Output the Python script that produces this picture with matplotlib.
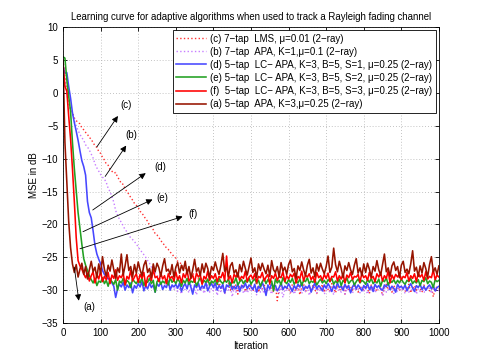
import numpy as np
import matplotlib
matplotlib.use('Agg')
import matplotlib.pyplot as plt

# MSE (dB) sampled every 5 iterations, 0..1000
step = 5

mse_c = [  # 7-tap LMS
    5.0, 2.5, 0.5, -1.5, -2.5, -3.0, -3.8, -4.2, -4.5, -4.7, -5.3, -5.6, -6.0, -6.3, -6.8, -7.0, -7.6, -8.0, -8.3, -8.9,
    -9.2, -9.8, -10.2, -10.8, -11.0, -11.6, -11.9, -12.2, -12.1, -12.8, -13.2, -13.8, -13.9, -14.6, -15.0, -15.4, -15.9, -16.3, -16.8, -17.1,
    -17.4, -18.0, -18.3, -18.7, -19.2, -19.5, -20.1, -20.4, -20.8, -21.4, -21.6, -22.0, -22.4, -22.9, -23.1, -23.6, -23.8, -24.2, -24.5, -24.9,
    -25.1, -25.6, -25.8, -26.0, -26.5, -26.6, -27.0, -27.1, -27.5, -27.4, -27.9, -28.0, -28.3, -28.1, -28.6, -28.4, -28.9, -28.7, -29.2, -28.8,
    -29.3, -29.0, -29.7, -28.6, -29.9, -29.2, -30.4, -29.5, -28.9, -30.0, -29.4, -29.8, -29.1, -30.6, -29.3, -29.7, -28.8, -30.2, -29.5, -29.9,
    -29.2, -30.1, -29.6, -28.7, -30.3, -29.4, -29.8, -29.0, -30.5, -29.5, -29.1, -29.9, -30.2, -29.3, -31.6, -29.7, -29.0, -30.0, -29.4, -29.8,
    -29.6, -30.4, -29.1, -29.8, -30.1, -29.3, -30.7, -29.5, -29.0, -30.2, -29.7, -29.4, -30.0, -29.2, -29.9, -30.5, -29.3, -29.8, -29.1, -30.3,
    -29.5, -29.9, -30.2, -29.0, -29.7, -30.4, -29.3, -29.8, -30.1, -29.4, -30.6, -29.2, -29.9, -29.5, -30.0, -29.1, -29.8, -30.3, -29.4, -29.7,
    -30.0, -29.3, -29.8, -30.5, -29.2, -29.9, -29.6, -30.2, -29.4, -29.7, -30.8, -29.5, -29.1, -30.0, -29.6, -30.3, -29.3, -29.8, -29.5, -30.1,
    -29.4, -29.9, -30.2, -29.6, -29.1, -30.4, -29.7, -29.3, -30.0, -29.5, -29.8, -30.3, -29.2, -29.9, -29.6, -30.1, -29.4, -31.0, -29.7, -29.5,
    -29.8,
]

mse_b = [  # 7-tap APA K=1
    5.0, 2.0, 0.0, -1.5, -2.5, -3.2, -4.2, -5.0, -5.7, -6.3, -6.8, -7.2, -7.9, -8.2, -8.7, -9.3, -9.9, -10.8, -11.4, -11.9,
    -12.4, -12.8, -13.1, -13.6, -14.5, -15.0, -15.8, -16.6, -17.9, -18.6, -19.2, -19.7, -20.2, -20.8, -21.1, -21.7, -22.0, -22.3, -22.6, -23.0,
    -23.4, -23.9, -24.2, -24.6, -25.0, -25.5, -25.9, -26.5, -27.0, -27.3, -27.7, -28.1, -28.4, -28.7, -29.0, -29.3, -29.1, -29.6, -29.4, -29.9,
    -29.5, -30.2, -29.8, -30.6, -29.3, -30.0, -29.7, -30.4, -29.1, -30.1, -29.9, -30.7, -29.4, -30.2, -29.6, -30.5, -29.8, -29.2, -30.3, -29.7,
    -30.1, -29.5, -30.8, -29.9, -30.2, -29.4, -30.6, -29.8, -30.0, -29.3, -31.0, -29.7, -30.3, -29.6, -30.1, -29.2, -30.5, -29.9, -30.4, -29.8,
    -30.2, -29.6, -30.0, -30.7, -29.4, -30.3, -29.8, -30.5, -29.5, -30.1, -29.9, -30.6, -29.3, -30.2, -29.7, -30.4, -29.6, -31.1, -29.9, -30.0,
    -29.7, -30.3, -29.5, -30.6, -29.9, -30.1, -29.4, -30.5, -29.8, -30.2, -29.6, -30.8, -29.9, -30.0, -29.3, -30.4, -29.7, -30.2, -29.5, -30.6,
    -30.0, -29.6, -30.4, -29.8, -30.7, -29.5, -30.1, -29.9, -30.3, -29.4, -30.6, -29.7, -30.2, -29.9, -30.5, -29.6, -30.0, -29.8, -30.4, -29.5,
    -30.1, -29.7, -30.6, -29.9, -30.2, -29.5, -30.4, -29.8, -30.0, -29.6, -30.9, -29.7, -30.3, -29.9, -30.1, -29.4, -30.5, -29.8, -30.2, -29.6,
    -30.0, -29.8, -30.5, -29.7, -30.3, -29.9, -30.1, -29.5, -30.6, -29.8, -30.2, -29.6, -30.4, -29.9, -30.0, -29.7, -30.5, -29.8, -30.2, -29.9,
    -30.1,
]

mse_d = [  # LC-APA S=1
    4.0, 3.0, 3.1, 1.0, -0.8, -3.0, -4.5, -5.8, -7.2, -8.8, -10.3, -11.2, -12.5, -16.5, -18.2, -19.0, -21.0, -23.2, -24.5, -25.3,
    -26.0, -27.0, -27.6, -27.9, -28.3, -28.2, -28.9, -29.4, -31.1, -29.8, -29.1, -29.5, -28.8, -30.0, -29.2, -29.6, -28.9, -30.4, -29.3, -29.7,
    -29.0, -29.5, -28.7, -30.1, -29.3, -29.8, -28.9, -29.6, -29.2, -30.3, -29.0, -29.4, -28.8, -29.9, -29.3, -29.6, -28.6, -30.0, -29.2, -29.5,
    -29.1, -29.7, -28.9, -30.2, -29.4, -29.0, -29.8, -28.7, -29.5, -30.6, -29.2, -29.6, -28.9, -29.9, -29.3, -29.7, -28.8, -30.1, -29.4, -29.0,
    -29.6, -28.9, -30.0, -29.3, -29.7, -29.1, -30.4, -29.2, -29.5, -28.8, -29.9, -29.4, -29.8, -29.0, -30.2, -29.3, -29.6, -28.9, -29.8, -29.2,
    -29.5, -29.9, -29.1, -30.3, -29.4, -29.7, -28.8, -29.6, -30.8, -29.2, -29.8, -29.0, -29.5, -29.3, -30.1, -29.6, -28.9, -29.9, -29.4, -29.7,
    -29.0, -29.6, -30.2, -29.3, -29.8, -29.1, -29.5, -28.9, -30.0, -29.4, -29.7, -29.2, -30.3, -29.5, -28.9, -29.8, -29.3, -29.6, -30.1, -29.2,
    -29.7, -29.0, -29.5, -30.2, -29.3, -29.8, -28.9, -29.6, -29.4, -30.0, -29.1, -29.7, -29.3, -30.4, -29.5, -29.0, -29.8, -29.2, -29.6, -30.1,
    -29.3, -29.7, -29.0, -29.9, -29.4, -30.2, -29.1, -29.6, -29.3, -29.8, -30.0, -29.2, -29.5, -28.9, -29.9, -29.4, -29.7, -30.3, -29.1, -29.6,
    -29.4, -29.8, -29.2, -30.1, -29.5, -29.0, -29.7, -30.2, -29.3, -29.6, -29.1, -29.9, -29.4, -30.0, -29.5, -29.2, -29.8, -29.3, -30.1, -29.6,
    -29.4,
]

mse_e = [  # LC-APA S=2
    5.5, 5.3, 2.0, -0.5, -2.8, -7.5, -11.5, -14.8, -18.2, -20.6, -23.0, -25.2, -26.2, -27.0, -27.8, -28.4, -28.9, -28.2, -29.3, -28.6,
    -28.8, -28.1, -29.0, -28.5, -29.4, -28.3, -28.7, -29.1, -28.4, -30.0, -28.6, -28.9, -28.2, -29.2, -28.5, -28.8, -29.6, -28.3, -28.7, -29.0,
    -28.4, -28.9, -28.1, -29.3, -28.6, -28.8, -28.2, -29.0, -28.5, -30.3, -28.7, -28.3, -29.1, -28.6, -28.9, -28.4, -29.2, -28.1, -28.8, -28.5,
    -29.0, -28.3, -28.7, -29.4, -28.5, -28.9, -28.2, -29.1, -28.6, -28.8, -28.4, -29.3, -28.7, -28.1, -29.0, -28.5, -28.8, -28.3, -29.2, -28.6,
    -28.9, -28.4, -29.1, -28.2, -28.7, -29.0, -28.5, -28.8, -28.3, -29.3, -28.6, -28.9, -28.1, -29.2, -28.7, -28.4, -29.0, -28.5, -28.8, -28.2,
    -29.1, -28.6, -28.3, -28.9, -28.5, -29.4, -28.7, -28.2, -29.0, -28.4, -28.8, -28.6, -30.1, -28.3, -28.9, -28.5, -29.2, -28.1, -28.7, -29.0,
    -28.4, -28.8, -28.2, -29.1, -28.6, -28.9, -28.3, -29.3, -28.5, -28.7, -28.1, -29.0, -28.6, -28.8, -28.4, -29.2, -28.7, -28.3, -28.9, -28.5,
    -29.0, -28.4, -28.7, -28.2, -29.1, -28.6, -28.9, -28.3, -29.3, -28.5, -28.8, -28.1, -29.0, -28.6, -28.4, -29.2, -28.7, -28.3, -28.9, -28.5,
    -28.7, -29.1, -28.4, -28.8, -28.2, -29.0, -28.6, -28.9, -28.3, -29.4, -28.5, -28.7, -28.1, -29.2, -28.6, -28.8, -28.4, -29.0, -28.5, -28.9,
    -28.3, -28.8, -29.1, -28.5, -28.7, -28.2, -29.0, -28.6, -28.9, -28.4, -29.3, -28.5, -28.7, -28.1, -29.0, -28.6, -28.8, -29.6, -28.4, -28.7,
    -28.5,
]

mse_f = [  # LC-APA S=3
    4.5, 1.0, 0.3, -3.5, -7.0, -11.5, -16.5, -22.0, -25.5, -26.3, -26.8, -27.5, -28.1, -27.4, -28.6, -27.8, -27.2, -28.9, -27.6, -28.3,
    -27.1, -28.7, -27.9, -28.4, -27.3, -29.0, -27.7, -28.2, -26.9, -28.5, -27.8, -28.1, -27.4, -29.2, -27.9, -28.3, -27.0, -28.6, -28.0, -27.5,
    -28.8, -27.6, -28.2, -27.3, -29.4, -28.0, -27.7, -28.5, -26.8, -28.1, -27.9, -28.7, -27.4, -28.3, -27.8, -29.0, -27.5, -28.2, -27.9, -28.6,
    -27.2, -28.4, -27.8, -28.9, -27.5, -28.1, -27.0, -28.6, -28.2, -27.7, -28.8, -27.4, -28.0, -27.6, -29.1, -27.9, -28.3, -27.1, -28.5, -27.8,
    -28.2, -27.5, -28.7, -27.9, -28.1, -27.3, -28.6, -24.8, -28.4, -27.8, -28.9, -27.6, -28.0, -27.4, -28.5, -27.9, -28.2, -27.1, -28.7, -28.0,
    -27.7, -28.3, -27.5, -28.8, -27.9, -28.1, -27.3, -28.6, -28.0, -27.6, -29.0, -27.8, -28.2, -27.4, -28.5, -27.9, -28.1, -27.2, -28.7, -27.8,
    -28.3, -27.6, -28.0, -27.4, -28.9, -27.9, -28.2, -27.1, -28.6, -27.7, -28.0, -27.5, -28.4, -27.9, -28.8, -27.3, -28.1, -27.8, -28.5, -27.6,
    -28.2, -27.4, -28.7, -27.9, -28.0, -27.2, -28.6, -27.8, -28.3, -27.5, -28.9, -27.7, -28.1, -27.3, -28.4, -27.9, -28.0, -27.6, -28.8, -27.4,
    -28.1, -27.8, -28.5, -27.3, -28.2, -27.9, -28.7, -27.5, -28.0, -27.4, -28.6, -27.8, -28.2, -27.1, -28.9, -27.7, -28.3, -27.6, -28.0, -27.5,
    -28.4, -27.9, -28.1, -27.3, -28.6, -27.8, -28.2, -27.5, -28.7, -27.4, -28.0, -27.6, -28.5, -27.2, -28.3, -27.9, -28.1, -26.9, -28.4, -27.7,
    -28.0,
]

mse_a = [  # 5-tap APA K=3
    5.0, -7.5, -13.5, -19.5, -23.5, -26.0, -27.3, -26.1, -28.0, -26.8, -25.9, -27.6, -26.4, -28.3, -26.9, -25.6, -27.2, -26.5, -28.1, -26.0,
    -27.5, -24.9, -26.8, -27.9, -26.2, -27.1, -25.4, -26.9, -28.2, -26.6, -27.3, -24.5, -27.7, -26.3, -24.6, -27.0, -26.4, -28.0, -26.1, -27.4,
    -25.7, -26.9, -27.8, -26.2, -25.5, -27.3, -26.7, -28.1, -26.0, -27.2, -25.9, -26.6, -27.9, -26.3, -25.2, -27.1, -26.8, -27.6, -26.1, -28.0,
    -26.5, -25.8, -27.4, -26.2, -27.0, -25.6, -27.5, -26.4, -28.2, -26.9, -25.3, -27.2, -26.6, -27.8, -26.0, -27.3, -25.9, -26.7, -28.1, -26.4,
    -27.0, -25.7, -26.8, -27.6, -26.2, -24.4, -27.1, -26.5, -27.9, -26.3, -25.8, -27.4, -26.9, -28.0, -26.1, -27.2, -25.6, -26.7, -27.7, -26.4,
    -25.1, -27.3, -26.6, -28.1, -26.0, -27.0, -25.9, -26.8, -27.5, -26.2, -27.9, -25.5, -26.9, -27.3, -26.4, -28.0, -25.8, -27.1, -26.5, -27.6,
    -26.1, -25.4, -27.2, -26.7, -28.2, -26.3, -27.0, -25.7, -26.9, -27.8, -26.2, -25.3, -27.4, -26.6, -28.0, -26.0, -27.1, -25.9, -26.8, -27.5,
    -26.4, -24.8, -27.3, -26.5, -23.6, -26.1, -27.2, -25.6, -26.7, -28.1, -26.3, -27.0, -25.8, -26.9, -27.6, -26.2, -25.2, -27.4, -26.6, -27.8,
    -26.0, -27.3, -25.9, -26.8, -28.0, -26.4, -27.1, -25.5, -26.9, -27.7, -26.1, -24.5, -27.2, -26.6, -27.9, -26.3, -25.7, -27.0, -26.4, -28.1,
    -26.2, -25.6, -27.3, -26.8, -27.5, -26.0, -24.0, -27.1, -26.5, -27.9, -26.3, -27.4, -25.8, -26.7, -28.0, -26.1, -24.9, -27.2, -26.6, -27.6,
    -26.3,
]

series = [
    ('(c) 7\u2212tap  LMS, \u03bc=0.01 (2\u2212ray)', mse_c, '#ff3030', ':'),
    ('(b) 7\u2212tap  APA, K=1,\u03bc=0.1 (2\u2212ray)', mse_b, '#c77dff', ':'),
    ('(d) 5\u2212tap  LC\u2212 APA, K=3, B=5, S=1, \u03bc=0.25 (2\u2212ray)', mse_d, '#4747ff', '-'),
    ('(e) 5\u2212tap  LC\u2212 APA, K=3, B=5, S=2, \u03bc=0.25 (2\u2212ray)', mse_e, '#22a022', '-'),
    ('(f)  5\u2212tap  LC\u2212 APA, K=3, B=5, S=3, \u03bc=0.25 (2\u2212ray)', mse_f, '#ff0000', '-'),
    ('(a) 5\u2212tap  APA, K=3,\u03bc=0.25 (2\u2212ray)', mse_a, '#961400', '-'),
]

# annotation labels: (label, text pos, arrow head, arrow tail)
notes = [
    ('(c)', (168, -1.9), (146, -3.5), (90, -8.2)),
    ('(b)', (181, -6.4), (168, -8.0), (112, -12.7)),
    ('(d)', (259, -11.2), (220, -12.2), (79, -17.8)),
    ('(e)', (263, -15.9), (238, -16.2), (53, -21.1)),
    ('(f)', (346, -18.4), (318, -18.8), (45, -23.7)),
    ('(a)', (69, -32.6), (42, -31.6), (30, -26.5)),
]

plt.rcParams['font.family'] = ['Liberation Sans', 'DejaVu Sans']

fig = plt.figure(figsize=(4.85, 3.63), dpi=100)
ax = fig.add_axes([0.13, 0.11, 0.775, 0.815])

for label, y, color, ls in series:
    assert len(y) == 201, (label, len(y))
    x = np.arange(len(y)) * step
    lw = 1.0 if ls == ':' else 1.15
    ax.plot(x, y, color=color, ls=ls, lw=lw, label=label)

for txt, tpos, head, tail in notes:
    ax.annotate('', xy=head, xytext=tail,
                arrowprops=dict(arrowstyle='-|>', color='k', lw=0.6,
                                mutation_scale=9, shrinkA=0, shrinkB=0))
    ax.text(tpos[0], tpos[1], txt, fontsize=7, ha='center', va='center')

ax.set_xlim(0, 1000)
ax.set_ylim(-35, 10)
ax.set_xticks(np.arange(0, 1001, 100))
ax.set_yticks(np.arange(-35, 11, 5))
ax.grid(True, color='#b0b0b0', ls=(0, (1, 2.5)), lw=0.6)
ax.tick_params(direction='in', top=True, right=True, labelsize=7, length=3, width=0.6)
for s in ax.spines.values():
    s.set_linewidth(0.6)

ax.set_xlabel('Iteration', fontsize=7, labelpad=2)
ax.set_ylabel('MSE in dB', fontsize=7, labelpad=2)
ax.set_title('Learning curve for adaptive algorithms when used to track a Rayleigh fading channel',
             fontsize=6.9, pad=5)

leg = ax.legend(loc='upper right', fontsize=7.0, handlelength=3.0, labelspacing=0.32,
                borderpad=0.35, borderaxespad=0.3, handletextpad=0.5,
                fancybox=False, framealpha=1, edgecolor='k')
leg.get_frame().set_linewidth(0.6)

fig.savefig('out.png', dpi=100, facecolor='white')
